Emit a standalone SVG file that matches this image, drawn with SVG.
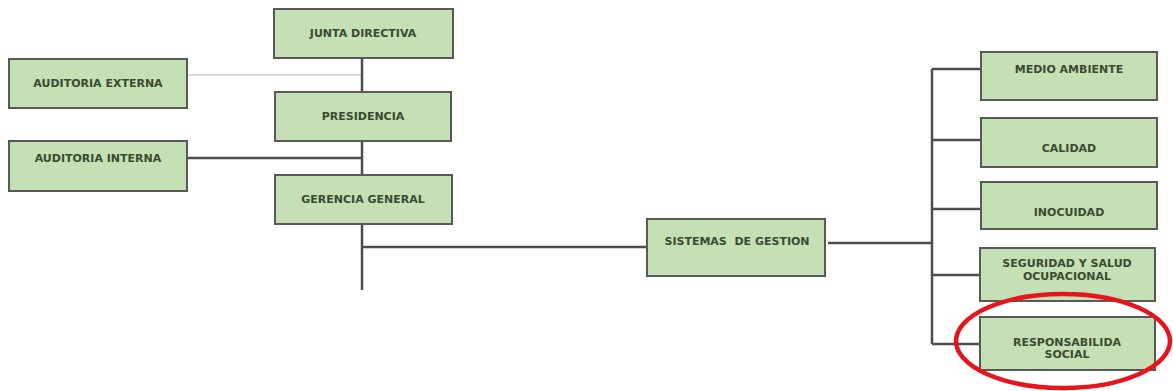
<svg xmlns="http://www.w3.org/2000/svg" width="1173" height="391" viewBox="0 0 1173 391">
<style>
.box{fill:#c5e0b4;stroke:#595959;stroke-width:2}
.t{font-family:"DejaVu Sans",Verdana,sans-serif;font-size:11px;fill:#3b4a33;text-anchor:middle;font-weight:bold;white-space:pre}
.c{stroke:#4d4d4d;stroke-width:2.5;fill:none}
.cl{stroke:#d9d9d9;stroke-width:2;fill:none}
</style>
<rect width="1173" height="391" fill="#fff"/>
<g id="connectors">
<line class="cl" x1="187" y1="75" x2="362" y2="75"/>
<line class="c" x1="362" y1="58" x2="362" y2="92"/>
<line class="c" x1="362" y1="141" x2="362" y2="175"/>
<line class="c" x1="187" y1="158" x2="362" y2="158"/>
<line class="c" x1="362" y1="224" x2="362" y2="290"/>
<line class="c" x1="362" y1="247" x2="647" y2="247"/>
<line class="c" x1="828" y1="243" x2="932" y2="243"/>
<line class="c" x1="932" y1="69" x2="932" y2="344"/>
<line class="c" x1="932" y1="69" x2="981" y2="69"/>
<line class="c" x1="932" y1="140" x2="981" y2="140"/>
<line class="c" x1="932" y1="209" x2="981" y2="209"/>
<line class="c" x1="932" y1="275" x2="980" y2="275"/>
<line class="c" x1="932" y1="344" x2="980" y2="344"/>
</g>
<g id="junta"><rect class="box" x="274" y="9" width="179" height="49"/><text class="t" x="363" y="37">JUNTA DIRECTIVA</text></g>
<g id="aud-ext"><rect class="box" x="9" y="59" width="178" height="49"/><text class="t" x="98" y="87">AUDITORIA EXTERNA</text></g>
<g id="presidencia"><rect class="box" x="275" y="92" width="176" height="49"/><text class="t" x="363" y="120">PRESIDENCIA</text></g>
<g id="aud-int"><rect class="box" x="9" y="141" width="178" height="50"/><text class="t" x="98" y="162">AUDITORIA INTERNA</text></g>
<g id="gerencia"><rect class="box" x="275" y="175" width="177" height="49"/><text class="t" x="363" y="203">GERENCIA GENERAL</text></g>
<g id="sistemas"><rect class="box" x="647" y="219" width="178" height="57"/><text class="t" x="737" y="245" xml:space="preserve">SISTEMAS  DE GESTION</text></g>
<g id="medio"><rect class="box" x="981" y="52" width="176" height="48"/><text class="t" x="1069" y="73">MEDIO AMBIENTE</text></g>
<g id="calidad"><rect class="box" x="981" y="118" width="176" height="49"/><text class="t" x="1069" y="152">CALIDAD</text></g>
<g id="inocuidad"><rect class="box" x="981" y="182" width="176" height="47"/><text class="t" x="1069" y="216">INOCUIDAD</text></g>
<g id="seguridad"><rect class="box" x="980" y="248" width="175" height="53"/><text class="t" x="1067" y="267">SEGURIDAD Y SALUD</text><text class="t" x="1067" y="280">OCUPACIONAL</text></g>
<g id="responsabilidad"><rect class="box" x="980" y="317" width="175" height="53"/><text class="t" x="1067" y="346">RESPONSABILIDA</text><text class="t" x="1067" y="358">SOCIAL</text></g>
<ellipse cx="1063" cy="341" rx="107" ry="47" fill="none" stroke="#e8141b" stroke-width="4.5"/>
</svg>
